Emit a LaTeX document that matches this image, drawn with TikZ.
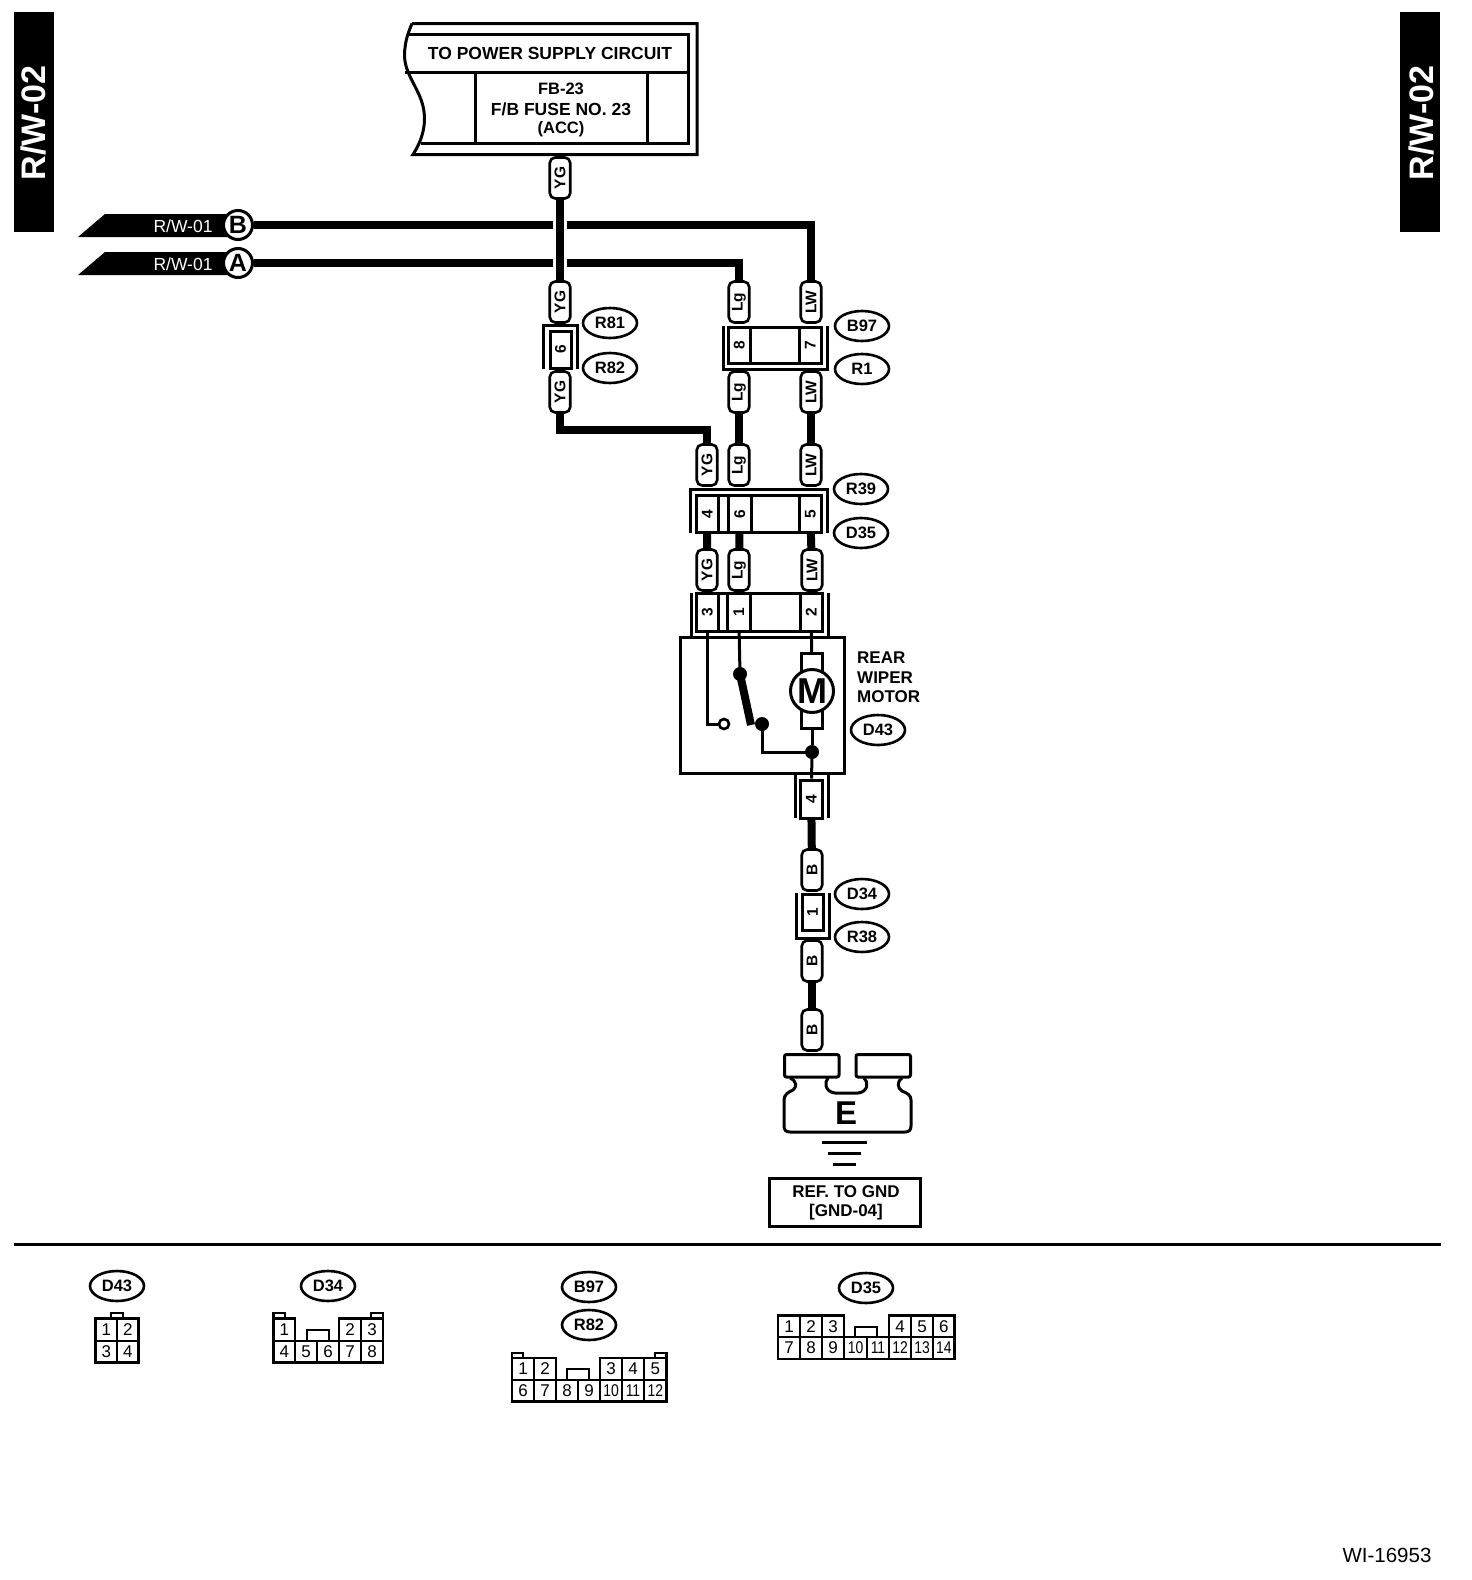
\documentclass[tikz,border=0pt]{standalone}
\usepackage{fontspec}
\usepackage{graphicx}
\setmainfont{Liberation Sans}
\usetikzlibrary{shapes.geometric,backgrounds}
\newcommand\fsz[1]{\fontsize{#1}{#1}\selectfont}
\tikzset{
  thin line/.style={line width=3pt,line join=miter},
  wire/.style={line width=8pt,line join=miter},
  thinwire/.style={line width=3pt,line join=miter},
  capsule/.style={draw,fill=white,line width=2.6pt,rectangle,rounded corners=5.5pt,rotate=90,minimum width=41pt,minimum height=20.5pt,inner sep=0pt,font=\bfseries\fsz{15.5}},
  tag/.style={draw,fill=white,line width=2.6pt,ellipse,minimum width=54pt,minimum height=30pt,inner sep=0pt,font=\bfseries\fsz{16.5}},
  pincell/.style={draw,fill=white,line width=3pt,rectangle,inner sep=0pt,font=\bfseries\fsz{15.5}},
  gridcell/.style={draw,line width=2.2pt,rectangle,inner sep=0pt,font=\fsz{17}},
  lbl/.style={inner sep=0pt,font=\bfseries\fsz{17.5}},
  dot/.style={circle,fill=black,inner sep=0pt,minimum size=14pt},
  tabtext/.style={inner sep=0pt,text=white,rotate=90,font=\bfseries\fsz{34}},
  bannertext/.style={inner sep=0pt,text=white,font=\fsz{17.5}},
  lettertag/.style={draw,fill=white,line width=3pt,circle,minimum size=29pt,inner sep=0pt,font=\bfseries\fsz{25}},
}
% name x1 x2 y1 y2 text
\newcommand\pinbox[6]{\node[pincell,minimum width={#3-#2},minimum height={#5-#4}] (#1) at ({(#2+#3)/2},{(#4+#5)/2}) {\rotatebox{90}{#6}};}
\newcommand\gcell[6]{\node[gridcell,minimum width={#3-#2},minimum height={#5-#4}] (#1) at ({(#2+#3)/2},{(#4+#5)/2}) {#6};}
\newcommand\sq[1]{\scalebox{.82}[1]{#1}}
\begin{document}
\begin{tikzpicture}[x=1pt,y=-1pt]
\useasboundingbox (0,0) rectangle (1472,1580);

% side tabs
\node[fill=black,minimum width=40pt,minimum height=220pt,inner sep=0pt] (tabL) at (34,122) {};
\node[tabtext] (tabLt) at (33.5,123) {R/W-02};
\node[fill=black,minimum width=40pt,minimum height=220pt,inner sep=0pt] (tabR) at (1420,122) {};
\node[tabtext] (tabRt) at (1421.5,123) {R/W-02};

% top supply box
\draw[thin line] (412,23.5) -- (697,23.5) -- (697,154.5) -- (413,154.5)
  .. controls (425,136) and (428,116) .. (420,97)
  .. controls (413,80) and (402,68) .. (405,48)
  .. controls (406,38) and (409,31) .. (412,23.5);
\draw[thin line] (407,34) -- (688,34) -- (688,143) -- (421,143);
\draw[thin line] (405,72) -- (688,72);
\node[pincell,minimum width=172pt,minimum height=71pt,align=center] (fuse) at (561,107.5) {};
\node[lbl] (fuset) at (550,53.5) {TO POWER SUPPLY CIRCUIT};
\node[lbl,font=\bfseries\fsz{16.5}] (fuse1) at (561,89) {FB-23};
\node[lbl,font=\bfseries\fsz{17.5}] (fuse2) at (561,109) {F/B FUSE NO. 23};
\node[lbl,font=\bfseries\fsz{16.5}] (fuse3) at (561,129) {(ACC)};

% banners
\fill (78,237) -- (105,214) -- (238,214) -- (238,237) -- cycle;
\fill (78,275) -- (105,252) -- (238,252) -- (238,275) -- cycle;
\node[bannertext] (bnB) at (183,226) {R/W-01};
\node[bannertext] (bnA) at (183,264) {R/W-01};
\node[lettertag] (cB) at (238,225) {B};
\node[lettertag] (cA) at (238,263) {A};

% capsules
\node[capsule] (yg0) at (560,178) {YG};
\node[capsule] (yg1) at (560,302) {YG};
\node[capsule] (yg2) at (560,392) {YG};
\node[capsule] (lg1) at (739,302) {Lg};
\node[capsule] (lw1) at (811,302) {LW};
\node[capsule] (lg2) at (739,392) {Lg};
\node[capsule] (lw2) at (811,392) {LW};
\node[capsule] (yg3) at (707,465) {YG};
\node[capsule] (lg3) at (739,465) {Lg};
\node[capsule] (lw3) at (811,465) {LW};
\node[capsule] (yg4) at (707,570) {YG};
\node[capsule] (lg4) at (739,570) {Lg};
\node[capsule] (lw4) at (812,570) {LW};
\node[capsule] (b1) at (812,870) {B};
\node[capsule] (b2) at (812,961) {B};
\node[capsule] (b3) at (812,1030) {B};

% connector R81/R82
\pinbox{c6}{550}{571}{331}{368}{6}
\draw[thin line] (543,369) -- (543,325) -- (577,325) -- (577,369);
\node[tag] (R81) at (610,323) {R81};
\node[tag] (R82) at (610,368) {R82};

% connector B97/R1
\pinbox{c8}{728.5}{750}{327}{363}{8}
\pinbox{cm1}{750}{799.5}{327}{363}{}
\pinbox{c7}{799.5}{821}{327}{363}{7}
\draw[thin line] (723,326) -- (723,369) -- (827,369) -- (827,326);
\node[tag] (B97) at (862,326) {B97};
\node[tag] (R1) at (862,369) {R1};

% connector R39/D35
\pinbox{c4}{696.5}{718}{495.5}{532}{4}
\pinbox{cg1}{718}{728.5}{495.5}{532}{}
\pinbox{c6b}{728.5}{751}{495.5}{532}{6}
\pinbox{cm2}{751}{799.5}{495.5}{532}{}
\pinbox{c5}{799.5}{821}{495.5}{532}{5}
\draw[thin line] (690,533) -- (690,489) -- (827,489) -- (827,533);
\node[tag] (R39) at (861,489) {R39};
\node[tag] (D35) at (861,533) {D35};

% connector on motor
\pinbox{c3}{696.5}{718}{593.5}{631}{3}
\pinbox{cg2}{718}{727.5}{593.5}{631}{}
\pinbox{c1}{727.5}{750}{593.5}{631}{1}
\pinbox{cm3}{750}{800.5}{593.5}{631}{}
\pinbox{c2}{800.5}{822}{593.5}{631}{2}
\draw[thin line] (691,593) -- (691,636) (828,593) -- (828,636);

% motor
\node[draw,line width=3pt,minimum width=164pt,minimum height=136pt,inner sep=0pt] (mbox) at (762,705) {};
\node[draw,fill=white,line width=3pt,minimum width=21pt,minimum height=75pt,inner sep=0pt] (brush) at (812,691) {};
\node[draw,fill=white,line width=3pt,circle,minimum size=43pt,inner sep=0pt,font=\bfseries\fsz{36}] (mot) at (812,691) {M};
\node[draw,fill=white,line width=2.6pt,circle,minimum size=10pt,inner sep=0pt] (open) at (724,724) {};
\node[dot] (sw1) at (740,674) {};
\node[dot] (sw2) at (762,724) {};
\node[dot] (junc) at (812,752) {};
\node[lbl,anchor=west,font=\bfseries\fsz{17}] (m1) at (857,658) {REAR};
\node[lbl,anchor=west,font=\bfseries\fsz{17}] (m2) at (857,678) {WIPER};
\node[lbl,anchor=west,font=\bfseries\fsz{17}] (m3) at (857,697) {MOTOR};
\node[tag] (D43) at (878,730) {D43};

% connector 4
\pinbox{c4b}{800.5}{822}{780}{818}{4}
\draw[thin line] (795.5,775) -- (795.5,818) (828,775) -- (828,818);

% connector D34/R38
\pinbox{c1b}{802}{823}{894}{930}{1}
\draw[thin line] (796,893) -- (796,938) -- (829,938) -- (829,893);
\node[tag] (D34) at (862,894) {D34};
\node[tag] (R38) at (862,937) {R38};

% ground terminal
\draw[line width=3pt,rounded corners=2pt] (784.5,1054.5) rectangle (839,1077);
\draw[line width=3pt,rounded corners=2pt] (856,1054.5) rectangle (910.5,1077);
\draw[line width=3pt,line join=round]
  (790,1078) .. controls (797,1081) and (797,1087) .. (793,1090)
  .. controls (788,1092) and (784,1095) .. (784,1100)
  -- (784,1126) .. controls (784,1130) and (786,1132) .. (790,1132)
  -- (905,1132) .. controls (909,1132) and (911,1130) .. (911,1126)
  -- (911,1100) .. controls (911,1095) and (907,1093) .. (902,1091)
  .. controls (897,1088) and (897,1081) .. (902,1078);
\draw[line width=3pt,line join=round]
  (828,1078) .. controls (824,1082) and (825,1092) .. (835,1093)
  -- (858,1093) .. controls (868,1092) and (869,1082) .. (864,1078);
\node[inner sep=0pt,font=\bfseries\fsz{33}] (E) at (846,1113) {E};
\coordinate (g1a) at (822,1142); \coordinate (g1b) at (867,1142);
\coordinate (g2a) at (828,1153); \coordinate (g2b) at (861,1153);
\coordinate (g3a) at (833,1164); \coordinate (g3b) at (856,1164);
\draw[line width=3pt] (g1a) -- (g1b) (g2a) -- (g2b) (g3a) -- (g3b);
\node[draw,line width=3pt,minimum width=151pt,minimum height=48pt,inner sep=0pt] (gndref) at (845,1202.5) {};
\node[inner sep=0pt,font=\bfseries\fsz{17}] (gnd1) at (846,1192) {REF. TO GND};
\node[inner sep=0pt,font=\bfseries\fsz{17}] (gnd2) at (846,1212.5) {[GND-04]};

% separator
\coordinate (sepL) at (14,1244); \coordinate (sepR) at (1441,1244);
\draw[line width=3pt] (sepL) -- (sepR);

% footer
\node[inner sep=0pt,font=\fsz{20.5}] (wi) at (1387,1555) {WI-16953};

% --- connector views ---
\node[tag] (vD43) at (117,1286) {D43};
\gcell{a1}{95.5}{117}{1318.5}{1341}{1}
\gcell{a2}{117}{138.5}{1318.5}{1341}{2}
\gcell{a3}{95.5}{117}{1341}{1362.5}{3}
\gcell{a4}{117}{138.5}{1341}{1362.5}{4}
\draw[line width=2.2pt] (111,1318) -- (111,1313) -- (123,1313) -- (123,1318);

\node[tag] (vD34) at (328,1286) {D34};
\gcell{b11}{273.5}{295}{1318.5}{1341}{1}
\gcell{b12}{339}{361}{1318.5}{1341}{2}
\gcell{b13}{361}{383}{1318.5}{1341}{3}
\gcell{b14}{273.5}{295}{1341}{1362.5}{4}
\gcell{b15}{295}{317}{1341}{1362.5}{5}
\gcell{b16}{317}{339}{1341}{1362.5}{6}
\gcell{b17}{339}{361}{1341}{1362.5}{7}
\gcell{b18}{361}{383}{1341}{1362.5}{8}
\draw[line width=2.2pt] (307,1341) -- (307,1330) -- (329,1330) -- (329,1341);
\draw[line width=2.2pt] (273.5,1318) -- (273.5,1313) -- (285,1313) -- (285,1318);
\draw[line width=2.2pt] (371,1318) -- (371,1313) -- (383,1313) -- (383,1318);

\node[tag] (vB97) at (589,1287) {B97};
\node[tag] (vR82) at (589,1325) {R82};
\gcell{d1}{512}{534}{1358}{1380}{1}
\gcell{d2}{534}{556}{1358}{1380}{2}
\gcell{d3}{600}{622}{1358}{1380}{3}
\gcell{d4}{622}{644}{1358}{1380}{4}
\gcell{d5}{644}{666.5}{1358}{1380}{5}
\gcell{d6}{512}{534}{1380}{1401.5}{6}
\gcell{d7}{534}{556}{1380}{1401.5}{7}
\gcell{d8}{556}{578}{1380}{1401.5}{8}
\gcell{d9}{578}{600}{1380}{1401.5}{9}
\gcell{d10}{600}{622}{1380}{1401.5}{\sq{10}}
\gcell{d11}{622}{644}{1380}{1401.5}{\sq{11}}
\gcell{d12}{644}{666.5}{1380}{1401.5}{\sq{12}}
\draw[line width=2.2pt] (567,1380) -- (567,1369) -- (589,1369) -- (589,1380);
\draw[line width=2.2pt] (512,1358) -- (512,1353) -- (523,1353) -- (523,1358);
\draw[line width=2.2pt] (655,1358) -- (655,1353) -- (666.5,1353) -- (666.5,1358);

\node[tag] (vD35) at (866,1288) {D35};
\gcell{e1}{778}{800}{1315.5}{1337}{1}
\gcell{e2}{800}{822}{1315.5}{1337}{2}
\gcell{e3}{822}{844}{1315.5}{1337}{3}
\gcell{e4}{889}{911}{1315.5}{1337}{4}
\gcell{e5}{911}{933}{1315.5}{1337}{5}
\gcell{e6}{933}{954.5}{1315.5}{1337}{6}
\gcell{e7}{778}{800}{1337}{1359}{7}
\gcell{e8}{800}{822}{1337}{1359}{8}
\gcell{e9}{822}{844}{1337}{1359}{9}
\gcell{e10}{844}{867}{1337}{1359}{\sq{10}}
\gcell{e11}{867}{889}{1337}{1359}{\sq{11}}
\gcell{e12}{889}{911}{1337}{1359}{\sq{12}}
\gcell{e13}{911}{933}{1337}{1359}{\sq{13}}
\gcell{e14}{933}{954.5}{1337}{1359}{\sq{14}}
\draw[line width=2.2pt] (855,1337) -- (855,1327) -- (877,1327) -- (877,1337);

% --- wires, behind the nodes ---
\begin{scope}[on background layer]
  \draw[wire] (cB) -| (lw1);
  \draw[wire] (cA) -| (lg1);
  \draw[wire,preaction={draw=white,line width=14pt}] (yg0) -- (yg1);
  \draw[wire] (yg2.center) |- (707,430) -- (yg3.center);
  \draw[wire] (lg2) -- (lg3);
  \draw[wire] (lw2) -- (lw3);
  \draw[wire] (c4) -- (yg4);
  \draw[wire] (c6b) -- (lg4);
  \draw[wire] (c5.center) -- (lw4.center);
  \draw[wire] (c4b) -- (b1);
  \draw[wire] (b2) -- (b3);
  \draw[thinwire] (c3.center) -- (c3.center |- open) -- (open);
  \draw[thinwire] (c1.center) -- (sw1.center);
  \draw[thinwire] (c2.center) -- (brush);
  \draw[thinwire] (brush) -- (junc);
  \draw[thinwire] (junc) -- (c4b);
  \draw[thinwire] (sw2.center) |- (junc.center);
\end{scope}
\draw[line width=8pt] (sw1.center) -- (751,725);
\end{tikzpicture}
\end{document}
